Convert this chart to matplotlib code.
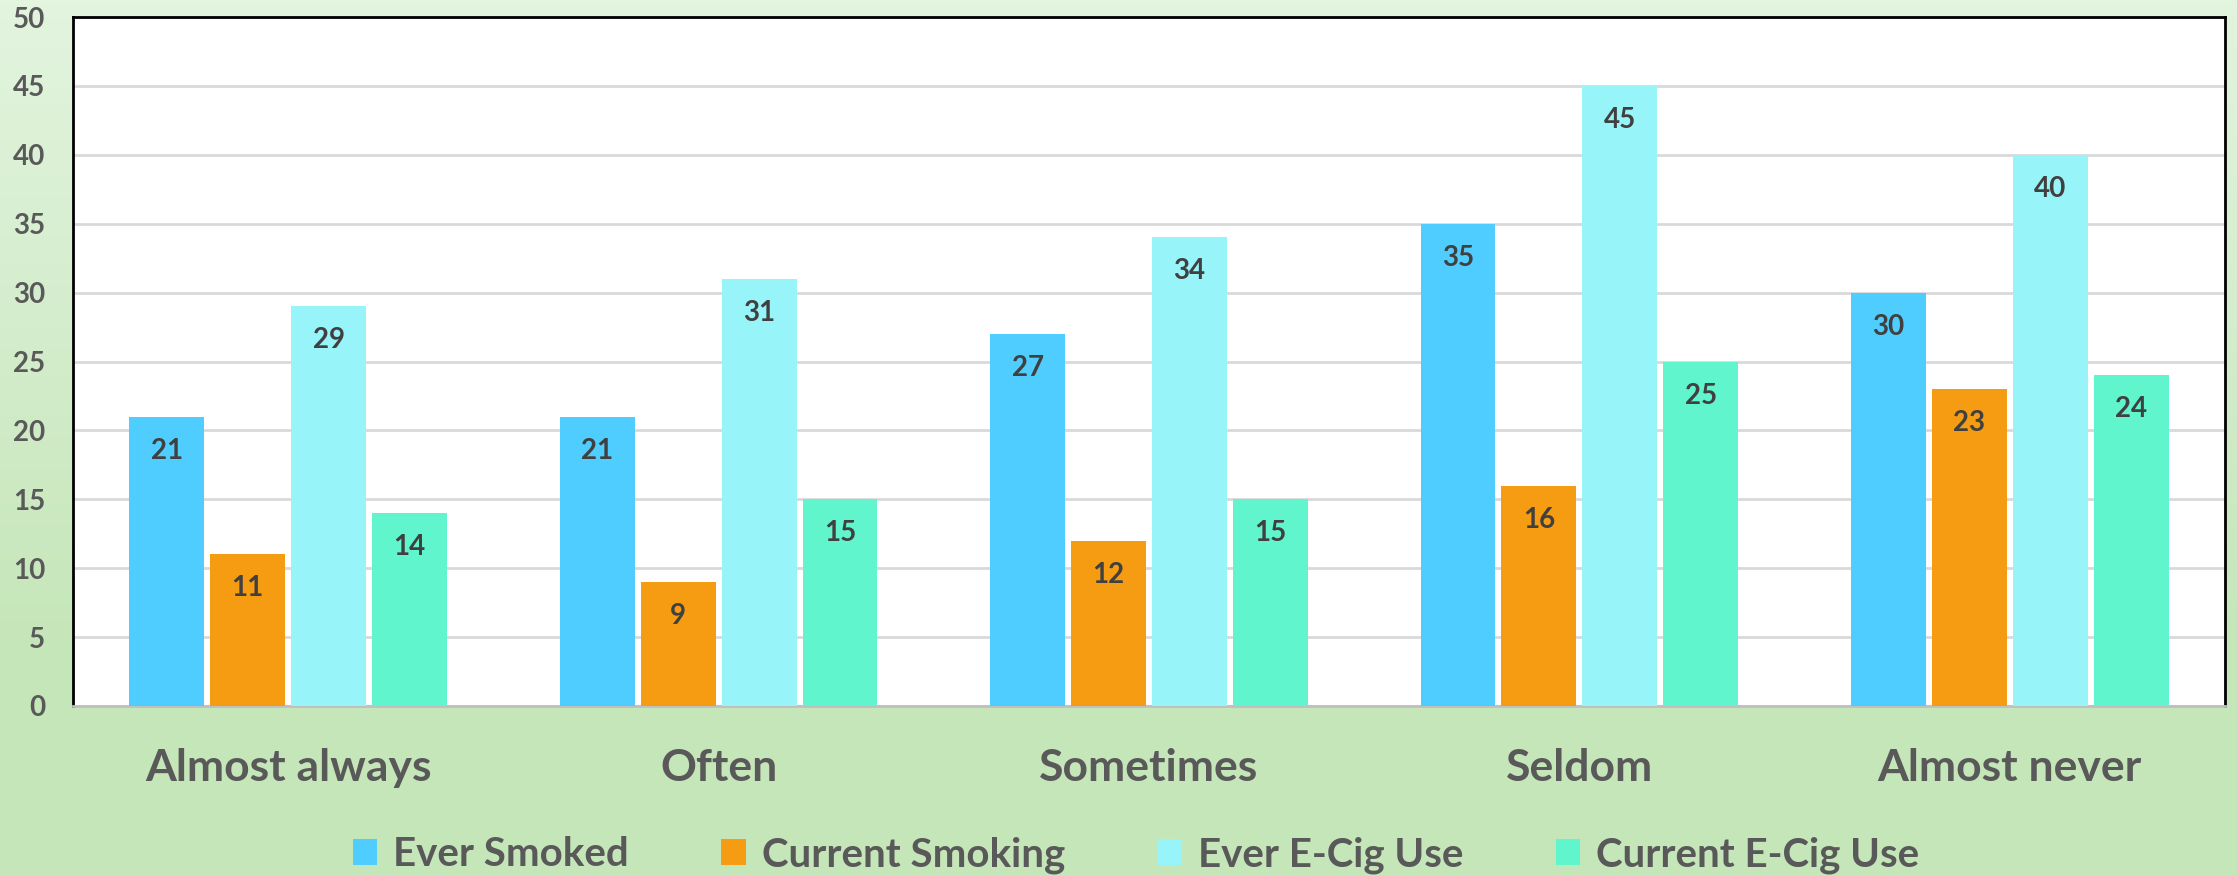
import numpy as np
import matplotlib
matplotlib.use('Agg')
import matplotlib.pyplot as plt

plt.rcParams['font.family'] = ['Lato', 'DejaVu Sans']

# data
categories = ['Almost always', 'Often', 'Sometimes', 'Seldom', 'Almost never']
series_names = ['Ever Smoked', 'Current Smoking', 'Ever E-Cig Use', 'Current E-Cig Use']
ever_smoked = [21, 21, 27, 35, 30]
current_smoking = [11, 9, 12, 16, 23]
ever_ecig = [29, 31, 34, 45, 40]
current_ecig = [14, 15, 15, 25, 24]
y_ticks = [0, 5, 10, 15, 20, 25, 30, 35, 40, 45, 50]

colors = ['#50CDFF', '#F59C12', '#97F4F9', '#61F5CD']
text_color = '#595959'
label_color = '#404040'

fig = plt.figure(figsize=(22.37, 8.76), dpi=100)

# green gradient background
bg = fig.add_axes([0, 0, 1, 1], zorder=-10)
rows = np.linspace(0, 1, 200)
top_c = np.array([227, 244, 223]) / 255
bot_c = np.array([197, 230, 185]) / 255
t = np.clip(rows / 0.75, 0, 1)[:, None]
grad = top_c * (1 - t) + bot_c * t
bg.imshow(grad[:, None, :], aspect='auto', extent=[0, 1, 0, 1], origin='upper')
bg.axis('off')

ax = fig.add_axes([73 / 2237, 170 / 876, (2225 - 73) / 2237, (706 - 17) / 876])
ax.set_facecolor('white')

x = np.arange(len(categories))
step = 0.188
width = 0.174
all_series = [ever_smoked, current_smoking, ever_ecig, current_ecig]
for i, (vals, name, c) in enumerate(zip(all_series, series_names, colors)):
    pos = x + (i - 1.5) * step
    bars = ax.bar(pos, vals, width=width, color=c, label=name, zorder=3)
    for b, v in zip(bars, vals):
        ax.annotate(str(v), (b.get_x() + b.get_width() / 2, v),
                    xytext=(0, -34), textcoords='offset pixels',
                    ha='center', va='center', fontsize=20, fontweight='bold',
                    color=label_color, zorder=4)

ax.set_xlim(-0.5, len(categories) - 0.5)
ax.set_ylim(0, 50)
ax.set_yticks(y_ticks)
ax.set_yticklabels([str(v) for v in y_ticks], fontsize=20, fontweight='bold', color=text_color)
ax.set_xticks(x)
ax.set_xticklabels(categories, fontsize=32, fontweight='bold', color=text_color)
ax.tick_params(axis='both', length=0)
ax.tick_params(axis='y', pad=20)
ax.tick_params(axis='x', pad=30)
ax.yaxis.grid(True, color='#D9D9D9', linewidth=2, zorder=0)
ax.set_axisbelow(True)

for side in ['left', 'top', 'right']:
    ax.spines[side].set_color('black')
    ax.spines[side].set_linewidth(2)
ax.spines['bottom'].set_color('#BFBFBF')
ax.spines['bottom'].set_linewidth(2)

leg = fig.legend(loc='center', bbox_to_anchor=(1136 / 2237, 1 - 855 / 876), ncol=4,
                 frameon=False, fontsize=29, handlelength=0.6, handleheight=0.6,
                 handletextpad=0.4, columnspacing=2.3, borderpad=0)
for txt in leg.get_texts():
    txt.set_color(text_color)
    txt.set_fontweight('bold')

fig.savefig('out.png', dpi=100)
